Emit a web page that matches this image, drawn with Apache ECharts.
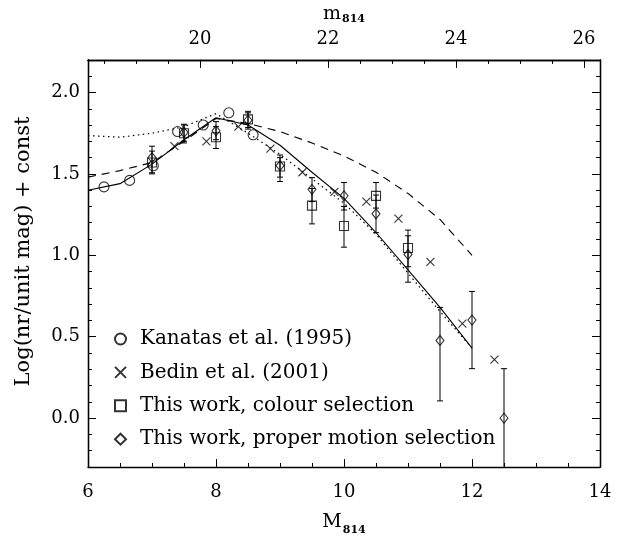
<!DOCTYPE html>
<html>
<head>
<meta charset="utf-8">
<script src="https://cdn.jsdelivr.net/npm/echarts@6/dist/echarts.min.js"></script>
<style>html,body{margin:0;padding:0;background:#fff;}#c{width:633px;height:541px;}</style>
</head>
<body>
<div id="c"></div>
<script>
// ---- data ----
const kanatasX = [6.25, 6.65, 7.02, 7.40, 7.80, 8.20, 8.58];
const kanatasY = [1.42, 1.46, 1.55, 1.76, 1.80, 1.875, 1.74];

const bedinX = [7.35, 7.85, 8.35, 8.85, 9.35, 9.85, 10.35, 10.85, 11.35, 11.85, 12.35];
const bedinY = [1.67, 1.70, 1.79, 1.655, 1.51, 1.39, 1.33, 1.225, 0.96, 0.58, 0.36];

const colourX  = [7.0, 7.5, 8.0, 8.5, 9.0, 9.5, 10.0, 10.5, 11.0];
const colourY  = [1.57, 1.75, 1.725, 1.835, 1.545, 1.305, 1.18, 1.365, 1.045];
const colourLo = [1.50, 1.69, 1.656, 1.785, 1.48, 1.193, 1.05, 1.29, 0.93];
const colourHi = [1.64, 1.805, 1.79, 1.884, 1.616, 1.41, 1.30, 1.447, 1.155];

const pmX  = [7.0, 7.5, 8.0, 8.5, 9.0, 9.5, 10.0, 10.5, 11.0, 11.5, 12.0, 12.5];
const pmY  = [1.60, 1.755, 1.765, 1.83, 1.55, 1.405, 1.365, 1.255, 1.005, 0.477, 0.602, 0.0];
const pmLo = [1.507, 1.70, 1.71, 1.775, 1.453, 1.33, 1.278, 1.139, 0.835, 0.106, 0.304, -0.45];
const pmHi = [1.67, 1.80, 1.821, 1.875, 1.60, 1.477, 1.447, 1.37, 1.12, 0.68, 0.778, 0.304];

const modelX  = [6.0, 6.5, 7.0, 7.5, 8.0, 8.5, 9.0, 9.5, 10.0, 10.5, 11.0, 11.5, 12.0];
const solidY  = [1.40, 1.44, 1.56, 1.71, 1.845, 1.80, 1.676, 1.51, 1.35, 1.14, 0.91, 0.68, 0.43];
const dashedY = [1.48, 1.52, 1.57, 1.70, 1.84, 1.81, 1.76, 1.69, 1.61, 1.51, 1.38, 1.22, 1.00];
const dottedY = [1.735, 1.725, 1.75, 1.79, 1.87, 1.75, 1.62, 1.47, 1.32, 1.13, 0.89, 0.655, 0.43];

const xTicks = [6, 8, 10, 12, 14];
const topTicks = [20, 22, 24, 26];
const yTicks = [0.0, 0.5, 1.0, 1.5, 2.0];
const mOffset = 12.25; // m814 - M814

const legendNames = ['Kanatas et al. (1995)', 'Bedin et al. (2001)',
  'This work, colour selection', 'This work, proper motion selection'];

// ---- chart ----
const X_MIN = 6, X_MAX = 14, Y_MIN = -0.3, Y_MAX = 2.2;
const FONT = 'DejaVu Serif';
const black = '#000';

function range(a, b, step) {
  const out = [];
  for (let v = a; v <= b + 1e-9; v += step) out.push(Math.round(v * 1000) / 1000);
  return out;
}
const topMinor = range(18.5, 26, 0.5);
const yMinor = range(-0.2, 2.2, 0.1);

const zip = (xs, ys) => xs.map((x, i) => [x, ys[i]]);
const zip3 = (xs, lo, hi) => xs.map((x, i) => [x, lo[i], hi[i]]);

function errRender(params, api) {
  const x = api.value(0), lo = api.value(1), hi = api.value(2);
  const capLo = lo >= Y_MIN;
  const pTop = api.coord([x, Math.min(hi, Y_MAX)]);
  const pBot = api.coord([x, Math.max(lo, Y_MIN)]);
  const w = 3;
  const st = { stroke: black, lineWidth: 1 };
  const children = [
    { type: 'line', shape: { x1: pTop[0], y1: pTop[1], x2: pBot[0], y2: pBot[1] }, style: st },
    { type: 'line', shape: { x1: pTop[0] - w, y1: pTop[1], x2: pTop[0] + w, y2: pTop[1] }, style: st }
  ];
  if (capLo) children.push({ type: 'line', shape: { x1: pBot[0] - w, y1: pBot[1], x2: pBot[0] + w, y2: pBot[1] }, style: st });
  return { type: 'group', children };
}

const symStyle = { color: 'rgba(0,0,0,0)', borderColor: black, borderWidth: 1.1 };
const axisLine = { show: true, onZero: false, lineStyle: { color: black, width: 1.3 } };
const labelStyle = { color: black, fontFamily: FONT, fontSize: 18 };

function tickAxis(pos, min, max, vals, len, extra) {
  return Object.assign({
    type: 'value', position: pos, min, max,
    axisLine: axisLine, splitLine: { show: false },
    axisTick: { show: true, inside: true, length: len, customValues: vals, lineStyle: { color: black, width: 1 } },
    axisLabel: { show: false }
  }, extra || {});
}

const option = {
  animation: false,
  backgroundColor: '#fff',
  grid: { left: 88, right: 33, top: 53, bottom: 68, containLabel: false },
  xAxis: [
    {
      type: 'value', position: 'bottom', min: X_MIN, max: X_MAX, interval: 2,
      axisLine: axisLine, splitLine: { show: false },
      axisTick: { show: true, inside: true, length: 8, lineStyle: { color: black, width: 1 } },
      minorTick: { show: true, splitNumber: 4, length: 4, lineStyle: { color: black, width: 1 } },
      axisLabel: Object.assign({ margin: 16, customValues: xTicks }, labelStyle),
      name: '{a|M}{b|814}', nameLocation: 'middle', nameGap: 46,
      nameTextStyle: { rich: {
        a: { fontFamily: FONT, fontSize: 19, color: black, verticalAlign: 'top' },
        b: { fontFamily: FONT, fontSize: 11, fontWeight: 'bold', color: black, verticalAlign: 'top', padding: [12, 0, 0, 1] }
      } }
    },
    tickAxis('top', X_MIN + mOffset, X_MAX + mOffset, topTicks, 8, {
      axisLabel: Object.assign({ show: true, margin: 12, customValues: topTicks }, labelStyle),
      name: '{a|m}{b|814}', nameLocation: 'middle', nameGap: 20,
      nameTextStyle: { rich: {
        a: { fontFamily: FONT, fontSize: 19, color: black, verticalAlign: 'top' },
        b: { fontFamily: FONT, fontSize: 11, fontWeight: 'bold', color: black, verticalAlign: 'top', padding: [9, 0, 0, 1] }
      } }
    }),
    tickAxis('top', X_MIN + mOffset, X_MAX + mOffset, topMinor, 4)
  ],
  yAxis: [
    {
      type: 'value', position: 'left', min: Y_MIN, max: Y_MAX,
      axisLine: axisLine, splitLine: { show: false },
      axisTick: { show: true, inside: true, length: 8, customValues: yTicks, lineStyle: { color: black, width: 1 } },
      axisLabel: Object.assign({ margin: 8, customValues: yTicks, formatter: v => v.toFixed(1) }, labelStyle),
      name: 'Log(nr/unit mag) + const', nameLocation: 'middle', nameGap: 54,
      nameTextStyle: { fontFamily: FONT, fontSize: 21, color: black, padding: [0, 0, 0, 24] }
    },
    tickAxis('left', Y_MIN, Y_MAX, yMinor, 4),
    tickAxis('right', Y_MIN, Y_MAX, yTicks, 8),
    tickAxis('right', Y_MIN, Y_MAX, yMinor, 4)
  ],
  legend: {
    show: true, orient: 'vertical', left: 109, top: 324,
    itemWidth: 11, itemHeight: 11, itemGap: 13.4,
    data: legendNames,
    textStyle: { fontFamily: FONT, fontSize: 20, color: black, lineHeight: 20, padding: [0, 0, 0, 9] },
    selectedMode: false
  },
  series: [
    { type: 'line', data: zip(modelX, solidY), symbol: 'none', silent: true,
      lineStyle: { color: black, width: 1.1, type: 'solid' } },
    { type: 'line', data: zip(modelX, dashedY), symbol: 'none', silent: true,
      lineStyle: { color: black, width: 1.1, type: [8, 6] } },
    { type: 'line', data: zip(modelX, dottedY), symbol: 'none', silent: true,
      lineStyle: { color: black, width: 1.2, type: [1.5, 3.5] } },
    { type: 'custom', renderItem: errRender, data: zip3(colourX, colourLo, colourHi), silent: true, clip: true },
    { type: 'custom', renderItem: errRender, data: zip3(pmX, pmLo, pmHi), silent: true, clip: true },
    { name: legendNames[0], type: 'scatter', data: zip(kanatasX, kanatasY),
      symbol: 'circle', symbolSize: 10, itemStyle: symStyle, silent: true },
    { name: legendNames[1], type: 'scatter', data: zip(bedinX, bedinY),
      symbol: 'path://M0,0L10,10M10,0L0,10', symbolSize: 8, itemStyle: symStyle, silent: true },
    { name: legendNames[2], type: 'scatter', data: zip(colourX, colourY),
      symbol: 'rect', symbolSize: 9, itemStyle: symStyle, silent: true },
    { name: legendNames[3], type: 'scatter', data: zip(pmX, pmY),
      symbol: 'diamond', symbolSize: [8, 10], itemStyle: symStyle, silent: true }
  ]
};

const chart = echarts.init(document.getElementById('c'), null, { renderer: 'canvas' });
chart.setOption(option);
</script>
</body>
</html>
